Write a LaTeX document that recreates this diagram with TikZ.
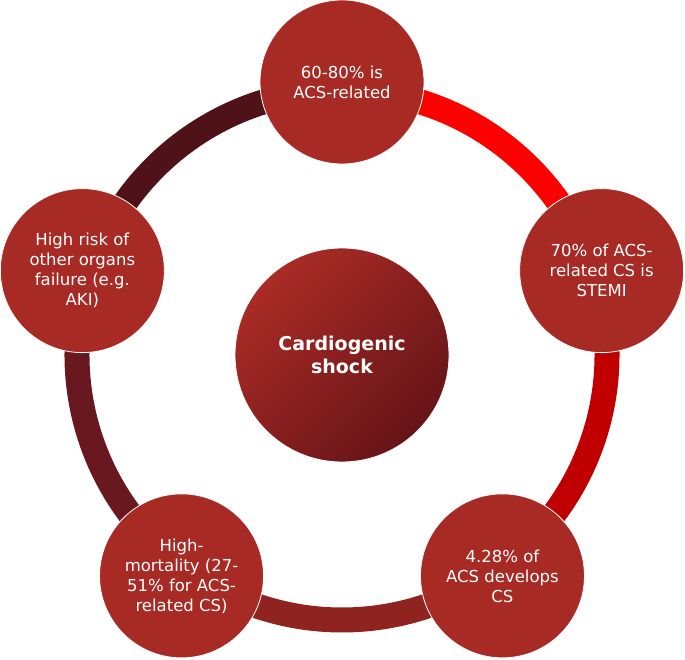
\documentclass[tikz,border=0pt]{standalone}
\usepackage{fontspec}
\setmainfont{DejaVu Sans}
\definecolor{bub}{HTML}{A72A24}
\definecolor{ringA}{HTML}{FF0000}
\definecolor{ringB}{HTML}{C00000}
\definecolor{ringC}{HTML}{8E2320}
\definecolor{ringD}{HTML}{6A1820}
\definecolor{ringE}{HTML}{4F1218}
\definecolor{hubA}{HTML}{AA2B25}
\definecolor{hubB}{HTML}{661418}
\begin{document}
\begin{tikzpicture}[x=1pt, y=1pt,
	bubble/.style={circle, fill=bub, draw=white, line width=0.8pt, minimum size=164pt, inner sep=0pt, text=white, align=center, font=\fontsize{16.5}{20}\selectfont},
	hub/.style={circle, top color=hubA, bottom color=hubB, shading angle=45, draw=white, line width=0.8pt, minimum size=214pt, inner sep=0pt, text=white, align=center, font=\fontsize{19}{23.5}\selectfont\bfseries},
	ring/.style={line width=25pt}]
	\useasboundingbox (0,0) rectangle (685,660);
	\coordinate (ctr) at (342,305);
	\draw[ring, ringA] ([shift={(90:265)}]ctr) arc[start angle=90, end angle=18, radius=265];
	\draw[ring, ringB] ([shift={(18:265)}]ctr) arc[start angle=18, end angle=-54, radius=265];
	\draw[ring, ringC] ([shift={(-54:265)}]ctr) arc[start angle=-54, end angle=-126, radius=265];
	\draw[ring, ringD] ([shift={(-126:265)}]ctr) arc[start angle=-126, end angle=-198, radius=265];
	\draw[ring, ringE] ([shift={(162:265)}]ctr) arc[start angle=162, end angle=90, radius=265];
	\node[hub] (shock) at (ctr) {Cardiogenic\\shock};
	\node[bubble] (acs) at ([shift={(90:273)}]ctr) {60-80\% is\\ACS-related};
	\node[bubble] (stemi) at ([shift={(18:273)}]ctr) {70\% of ACS-\\related CS is\\STEMI};
	\node[bubble] (develops) at ([shift={(-54:273)}]ctr) {4.28\% of\\ACS develops\\CS};
	\node[bubble] (mortality) at ([shift={(-126:273)}]ctr) {High-\\mortality (27-\\51\% for ACS-\\related CS)};
	\node[bubble] (organs) at ([shift={(162:273)}]ctr) {High risk of\\other organs\\failure (e.g.\\AKI)};
\end{tikzpicture}
\end{document}
